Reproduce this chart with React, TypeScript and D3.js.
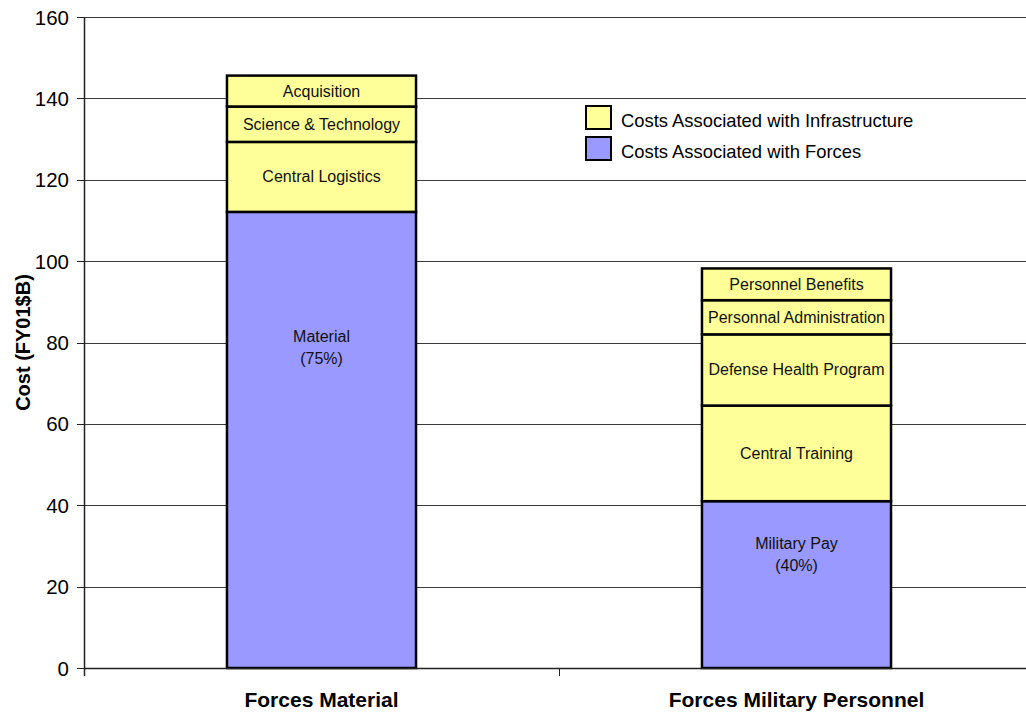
import React from 'react';
import * as d3 from 'd3';

// Chart data
const categories = ['Forces Material', 'Forces Military Personnel'];

// segment labels, bottom to top, per category
const segmentLabels = [
  ['Material|(75%)', 'Central Logistics', 'Science & Technology', 'Acquisition'],
  ['Military Pay|(40%)', 'Central Training', 'Defense Health Program', 'Personnal Administration', 'Personnel Benefits'],
];
// segment values (FY01 $B), bottom to top
const segmentValues = [
  [112.1, 17.2, 8.7, 7.6],
  [41.0, 23.5, 17.5, 8.4, 7.8],
];
// 'forces' or 'infra' for each segment
const segmentKinds = [
  ['forces', 'infra', 'infra', 'infra'],
  ['forces', 'infra', 'infra', 'infra', 'infra'],
];

const yTicks = [0, 20, 40, 60, 80, 100, 120, 140, 160];
const legendItems = [
  { kind: 'infra', label: 'Costs Associated with Infrastructure' },
  { kind: 'forces', label: 'Costs Associated with Forces' },
];

const colors: Record<string, string> = { infra: '#FFFF99', forces: '#9999FF' };

const W = 1026;
const H = 717;
const FONT = '"Liberation Sans", Arial, sans-serif';

export default function App() {
  const margin = { top: 17, left: 84, bottom: 49 };
  const y = d3.scaleLinear().domain([0, 160]).range([H - margin.bottom, margin.top]);
  const x = d3.scaleBand<string>().domain(categories).range([margin.left, 1034]).padding(0);
  const barW = x.bandwidth() * 0.398;
  const y0 = y(0);

  return (
    <div style={{ position: 'absolute', left: 0, top: 0 }}>
      <svg width={W} height={H} style={{ display: 'block', background: '#fff' }} fontFamily={FONT}>
        {/* gridlines */}
        {yTicks.filter(t => t > 0).map(t => (
          <line key={'g' + t} x1={margin.left} x2={W} y1={Math.round(y(t)) + 0.5} y2={Math.round(y(t)) + 0.5}
            stroke="#3a3a3a" strokeWidth={1} />
        ))}

        {/* y ticks and labels */}
        {yTicks.map(t => (
          <g key={'t' + t}>
            <line x1={margin.left - 7} x2={margin.left} y1={Math.round(y(t)) + 0.5} y2={Math.round(y(t)) + 0.5}
              stroke="#222" strokeWidth={1} />
            <text x={margin.left - 15} y={y(t)} textAnchor="end" dominantBaseline="central"
              fontSize={20.5} fill="#000">{t}</text>
          </g>
        ))}

        {/* axis title */}
        <text transform={`translate(23, ${(y(0) + y(160)) / 2}) rotate(-90)`} textAnchor="middle"
          dominantBaseline="central" fontSize={20} fontWeight="bold" fill="#000">Cost (FY01$B)</text>

        {/* bars */}
        {categories.map((cat, ci) => {
          const vals = segmentValues[ci];
          const ends = Array.from(d3.cumsum(vals));
          const cx = (x(cat) as number) + x.bandwidth() / 2;
          return (
            <g key={cat}>
              {vals.map((v, si) => {
                const top = y(ends[si]);
                const bottom = y(ends[si] - v);
                const h = bottom - top;
                const lines = segmentLabels[ci][si].split('|');
                return (
                  <g key={si}>
                    <rect x={cx - barW / 2} y={top} width={barW} height={h}
                      fill={colors[segmentKinds[ci][si]]} stroke="#000" strokeWidth={2.5} />
                    {lines.length === 1 ? (
                      <text x={cx} y={(top + bottom) / 2} textAnchor="middle" dominantBaseline="central"
                        fontSize={16} fill="#111">{lines[0]}</text>
                    ) : (
                      lines.map((ln, li) => (
                        <text key={li} x={cx} y={top + h * 0.285 + li * 22} textAnchor="middle"
                          fontSize={16} fill="#111">{ln}</text>
                      ))
                    )}
                  </g>
                );
              })}
            </g>
          );
        })}

        {/* x axis */}
        <line x1={margin.left} x2={W} y1={y0 + 0.5} y2={y0 + 0.5} stroke="#222" strokeWidth={1.5} />
        <line x1={margin.left + 0.5} x2={margin.left + 0.5} y1={margin.top} y2={y0 + 8} stroke="#222" strokeWidth={1.5} />
        {categories.slice(1).map(cat => (
          <line key={'xt' + cat} x1={(x(cat) as number) + 0.5} x2={(x(cat) as number) + 0.5} y1={y0} y2={y0 + 8}
            stroke="#222" strokeWidth={1} />
        ))}
        {categories.map(cat => (
          <text key={'xl' + cat} x={(x(cat) as number) + x.bandwidth() / 2} y={707} textAnchor="middle"
            fontSize={21} fontWeight="bold" fill="#000">{cat}</text>
        ))}

        {/* legend */}
        {legendItems.map((it, i) => (
          <g key={it.kind} transform={`translate(586, ${106 + i * 31})`}>
            <rect x={0} y={0} width={25} height={23} fill={colors[it.kind]} stroke="#000" strokeWidth={2} />
            <text x={35} y={14} dominantBaseline="central" fontSize={18.4} fill="#000">{it.label}</text>
          </g>
        ))}
      </svg>
    </div>
  );
}
